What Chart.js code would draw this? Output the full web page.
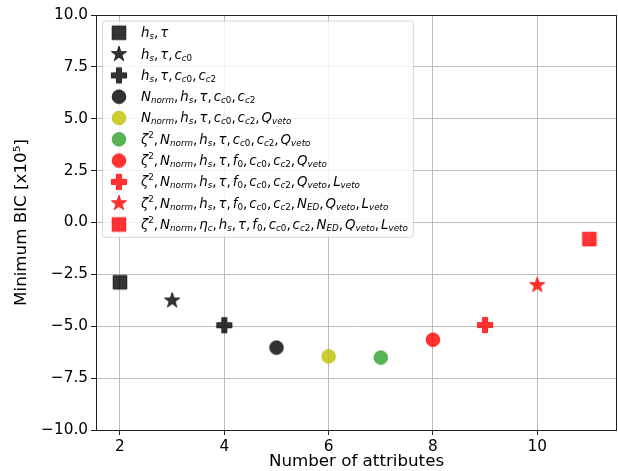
<!DOCTYPE html>
<html>
<head>
<meta charset="utf-8">
<script src="https://cdn.jsdelivr.net/npm/chart.js@4.4.0/dist/chart.umd.min.js"></script>
<style>
  html, body { margin: 0; padding: 0; background: #fff; }
  #wrap { width: 618px; height: 471px; }
</style>
</head>
<body>
<div id="wrap"><canvas id="chart" width="618" height="471"></canvas></div>
<script>
// number of attributes in each model and its best BIC (units of 1e5)
const attributes = [2, 3, 4, 5, 6, 7, 8, 9, 10, 11];
const minBic = [-2.88, -3.76, -4.95, -6.03, -6.45, -6.51, -5.65, -4.94, -3.02, -0.80];
// legend labels, _x / _{..} is subscript, ^x superscript
const seriesLabels = [
    'h_s, τ',
    'h_s, τ, c_{c0}',
    'h_s, τ, c_{c0}, c_{c2}',
    'N_{norm}, h_s, τ, c_{c0}, c_{c2}',
    'N_{norm}, h_s, τ, c_{c0}, c_{c2}, Q_{veto}',
    'ζ^2, N_{norm}, h_s, τ, c_{c0}, c_{c2}, Q_{veto}',
    'ζ^2, N_{norm}, h_s, τ, f_0, c_{c0}, c_{c2}, Q_{veto}',
    'ζ^2, N_{norm}, h_s, τ, f_0, c_{c0}, c_{c2}, Q_{veto}, L_{veto}',
    'ζ^2, N_{norm}, h_s, τ, f_0, c_{c0}, c_{c2}, N_{ED}, Q_{veto}, L_{veto}',
    'ζ^2, N_{norm}, η_c, h_s, τ, f_0, c_{c0}, c_{c2}, N_{ED}, Q_{veto}, L_{veto}'
];
const xTicks = [2, 4, 6, 8, 10];
const yTicks = [-10, -7.5, -5, -2.5, 0, 2.5, 5, 7.5, 10];

const markerShapes = ['square', 'star', 'plus', 'circle', 'circle', 'circle', 'circle', 'plus', 'star', 'square'];
const markerColors = ['0,0,0', '0,0,0', '0,0,0', '0,0,0', '191,191,0', '44,160,44', '255,0,0', '255,0,0', '255,0,0', '255,0,0'];

const FONT = '"DejaVu Sans", sans-serif';

// filled marker shapes like matplotlib s, *, P, o
const makeMarker = (shape, rgb) => {
    const size = 22;
    const c = document.createElement('canvas');
    c.width = size;
    c.height = size;
    const g = c.getContext('2d');
    g.translate(size / 2, size / 2);
    g.beginPath();
    if (shape === 'square') {
        g.rect(-6.8, -6.8, 13.6, 13.6);
    } else if (shape === 'circle') {
        g.arc(0, 0, 6.8, 0, Math.PI * 2);
    } else if (shape === 'star') {
        const R = 8, r = R * 0.382;
        for (let i = 0; i < 10; i++) {
            const a = -Math.PI / 2 + i * Math.PI / 5;
            const rad = i % 2 ? r : R;
            g.lineTo(rad * Math.cos(a), rad * Math.sin(a));
        }
        g.closePath();
    } else if (shape === 'plus') {
        const a = 7.6, b = 2.55;
        const pts = [[-b, -a], [b, -a], [b, -b], [a, -b], [a, b], [b, b], [b, a], [-b, a], [-b, b], [-a, b], [-a, -b], [-b, -b]];
        pts.forEach((p, i) => i ? g.lineTo(p[0], p[1]) : g.moveTo(p[0], p[1]));
        g.closePath();
    }
    g.fillStyle = 'rgba(' + rgb + ',0.8)';
    g.fill();
    g.strokeStyle = 'rgba(' + rgb + ',0.8)';
    g.lineWidth = 1;
    g.stroke();
    return c;
};

const markers = markerShapes.map((s, i) => makeMarker(s, markerColors[i]));

const parseMath = (str) => {
    const out = [];
    let i = 0;
    while (i < str.length) {
        const ch = str[i];
        if (ch === '_' || ch === '^') {
            const level = ch === '_' ? -1 : 1;
            let txt;
            if (str[i + 1] === '{') {
                const end = str.indexOf('}', i);
                txt = str.slice(i + 2, end);
                i = end + 1;
            } else {
                txt = str[i + 1];
                i += 2;
            }
            out.push({ text: txt, level });
        } else {
            out.push({ text: ch, level: 0 });
            i++;
        }
    }
    return out;
};

// mathtext-ish: italic letters, small subscripts, thin gap after commas
const drawMath = (ctx, str, x, y, size, measureOnly) => {
    let cx = x;
    parseMath(str).forEach(part => {
        const fs = part.level ? size * 0.66 : size;
        const dy = part.level < 0 ? size * 0.24 : (part.level > 0 ? -size * 0.36 : 0);
        for (const ch of part.text) {
            if (ch === ' ') { cx += 2; continue; }
            const italic = /[A-Za-zα-ωΑ-Ω]/.test(ch);
            ctx.font = (italic ? 'italic ' : '') + fs + 'px ' + FONT;
            if (!measureOnly) ctx.fillText(ch, cx, y + dy);
            cx += ctx.measureText(ch).width;
        }
    });
    return cx - x;
};

// legend with sub/superscripts, upper left like matplotlib
const mathLegend = {
    id: 'mathLegend',
    afterDraw(chart) {
        const ctx = chart.ctx;
        const area = chart.chartArea;
        const fs = 13.3;
        const rowH = 21.3;
        const left = area.left + 6;
        const top = area.top + 5.5;
        const markX = left + 17;
        const textX = left + 39;
        ctx.save();
        ctx.textBaseline = 'middle';
        let maxW = 0;
        seriesLabels.forEach(l => { maxW = Math.max(maxW, drawMath(ctx, l, 0, 0, fs, true)); });
        const w = textX - left + maxW + 5;
        const h = 12.3 * 2 + rowH * 9;
        ctx.beginPath();
        ctx.roundRect(left + 0.5, top + 0.5, w, h, 3);
        ctx.fillStyle = 'rgba(255,255,255,0.8)';
        ctx.fill();
        ctx.strokeStyle = 'rgba(204,204,204,0.8)';
        ctx.lineWidth = 1;
        ctx.stroke();
        ctx.fillStyle = '#000';
        seriesLabels.forEach((l, i) => {
            const y = top + 12.3 + i * rowH;
            const m = markers[i];
            ctx.drawImage(m, markX - m.width / 2, y - m.height / 2);
            drawMath(ctx, l, textX, y + 1, fs, false);
        });
        ctx.restore();
    }
};

// matplotlib draws all four spines
const frameBox = {
    id: 'frameBox',
    afterDatasetsDraw(chart) {
        const ctx = chart.ctx;
        const a = chart.chartArea;
        ctx.save();
        ctx.strokeStyle = '#222';
        ctx.lineWidth = 1;
        ctx.strokeRect(Math.round(a.left) + 0.5, Math.round(a.top) + 0.5, Math.round(a.right - a.left) - 1, Math.round(a.bottom - a.top));
        ctx.restore();
    }
};

const datasets = attributes.map((x, i) => ({
    label: seriesLabels[i],
    data: [{ x: x, y: minBic[i] }],
    pointStyle: markers[i],
    pointRadius: 7,
    showLine: false
}));

new Chart(document.getElementById('chart'), {
    type: 'scatter',
    data: { datasets },
    options: {
        responsive: false,
        animation: false,
        layout: { autoPadding: false, padding: { top: 15, right: 1, left: 0, bottom: 0 } },
        plugins: {
            legend: { display: false },
            tooltip: { enabled: false }
        },
        scales: {
            x: {
                type: 'linear',
                min: 1.54,
                max: 11.53,
                afterBuildTicks: s => { s.ticks = xTicks.map(v => ({ value: v })); },
                afterFit: s => { s.height = 41; },
                grid: { color: '#bdbdbd', lineWidth: 1, tickLength: 5, tickColor: '#222', drawTicks: true },
                border: { display: false },
                ticks: { color: '#000', font: { family: FONT, size: 15.3 }, padding: 3, maxRotation: 0, callback: v => String(v) },
                title: { display: true, text: 'Number of attributes', color: '#000', font: { family: FONT, size: 16.7 }, padding: { top: 0, bottom: -1 } }
            },
            y: {
                min: -10,
                max: 10,
                afterBuildTicks: s => { s.ticks = yTicks.map(v => ({ value: v })); },
                afterFit: s => { s.width = 96; },
                grid: { color: '#bdbdbd', lineWidth: 1, tickLength: 5, tickColor: '#222', drawTicks: true },
                border: { display: false },
                ticks: { color: '#000', font: { family: FONT, size: 15.3 }, padding: 3, callback: v => v.toFixed(1).replace('-', '\u2212') },
                title: { display: true, text: 'Minimum BIC [x10\u2075]', color: '#000', font: { family: FONT, size: 16.7 }, padding: { top: 12, bottom: 0 } }
            }
        }
    },
    plugins: [mathLegend, frameBox]
});
</script>
</body>
</html>
